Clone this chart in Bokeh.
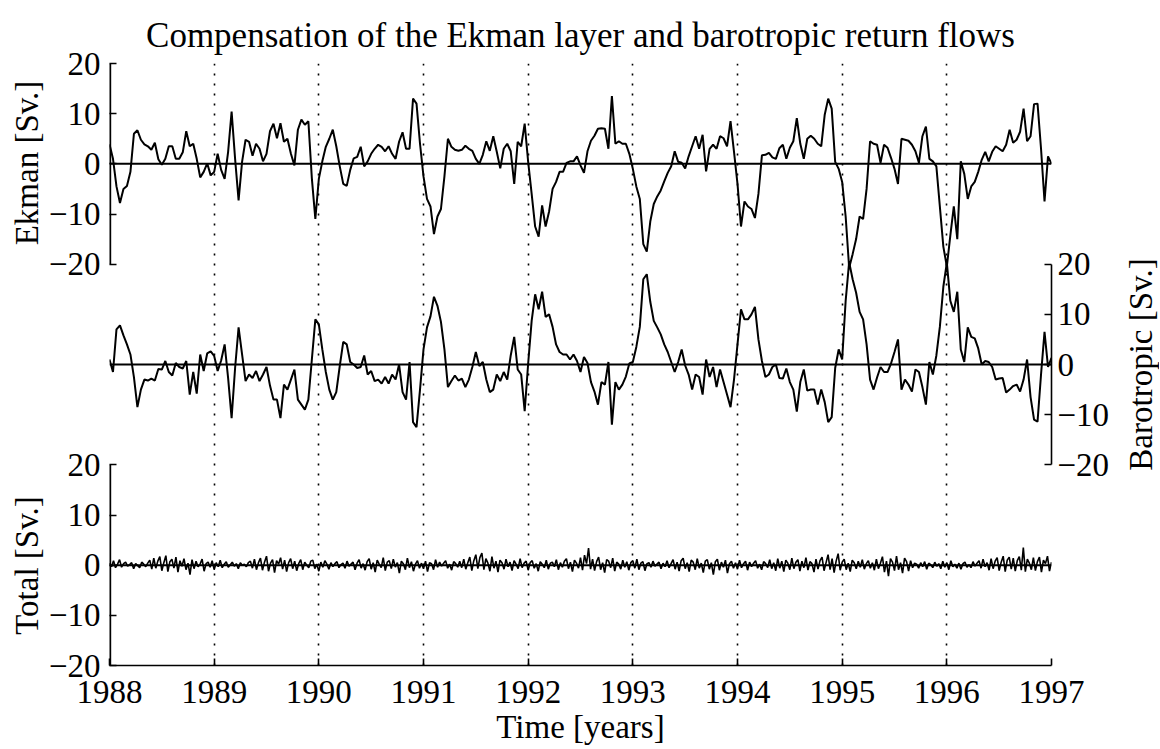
import numpy as np
from bokeh.plotting import figure
from bokeh.models import Range1d, LinearAxis, FixedTicker, Spacer
from bokeh.layouts import row, column
from bokeh.embed import file_html
from bokeh.resources import INLINE

title_text = "Compensation of the Ekman layer and barotropic return flows"
years = [1988, 1989, 1990, 1991, 1992, 1993, 1994, 1995, 1996, 1997]
sv_ticks = [-20, -10, 0, 10, 20]
sv_text = ["\u221220", "\u221210", "0", "10", "20"]
ekman_label = "Ekman [Sv.]"
baro_label = "Barotropic [Sv.]"
total_label = "Total [Sv.]"
time_label = "Time [years]"

# Ekman transport [Sv], 30 samples per year, 1988.0 .. 1997.0
ekman = [
    3.9, 1.0, -4.5, -7.8, -5.0, -4.4, -1.6, 6.0, 6.7, 4.8,
    3.9, 3.5, 2.8, 4.2, 0.9, -0.2, 1.0, 3.5, 3.5, 1.0,
    1.0, 2.3, 6.5, 3.5, 4.0, 1.0, -2.7, -1.6, 0.1, -2.3,
    -1.6, 2.0, -1.2, -3.0, 2.4, 10.4, 1.0, -7.3, 0.4, 4.8,
    4.4, 1.6, 4.0, 3.0, 0.5, 2.0, 6.5, 8.0, 5.1, 8.1,
    4.4, 5.0, 2.0, -0.3, 6.8, 8.8, 7.8, 8.5, -2.9, -11.0,
    -3.0, 0.5, 3.4, 5.0, 6.8, 3.5, -0.5, -4.0, -4.4, -1.2,
    1.1, 1.4, 3.4, -0.5, 0.5, 2.0, 3.0, 3.8, 3.4, 2.5,
    3.5, 2.0, 1.0, 4.4, 6.3, 3.0, 3.0, 13.0, 12.0, 4.0,
    -2.5, -7.0, -8.5, -14.0, -10.5, -9.0, -2.5, 5.0, 3.4, 2.8,
    2.6, 2.8, 3.6, 3.0, 2.6, 1.0, 0.0, 1.8, 4.5, 2.6,
    5.5, 2.4, -0.9, 3.0, 4.0, 2.5, -4.0, 4.4, 3.5, 8.0,
    0.4, -6.0, -12.5, -14.5, -8.3, -12.5, -9.5, -5.0, -3.6, -1.6,
    -1.6, 0.2, 0.5, 0.5, 1.5, -0.3, -1.8, 2.5, 4.6, 5.6,
    7.0, 7.1, 7.0, 3.0, 13.5, 4.0, 4.5, 4.0, 4.0, 2.0,
    -1.0, -4.5, -7.0, -16.0, -17.5, -11.5, -8.0, -6.5, -5.3, -3.5,
    -1.8, -0.5, 2.5, 0.4, 0.2, -0.9, 1.5, 3.5, 5.5, 3.0,
    5.8, -1.5, 3.0, 3.8, 3.0, 5.5, 5.1, 3.5, 8.5, 2.4,
    -4.0, -12.5, -7.5, -8.5, -9.0, -10.8, -6.0, 1.7, 1.8, 2.2,
    1.3, 1.0, 3.1, 3.8, 1.0, 3.2, 4.5, 9.1, 4.0, 1.0,
    5.0, 5.6, 5.0, 4.0, 3.5, 9.8, 13.0, 11.0, 0.4, -1.0,
    -3.6, -10.5, -20.7, -18.0, -15.0, -10.5, -11.0, -5.0, 4.5, 4.0,
    3.8, 0.2, 3.8, 3.2, 1.2, -1.0, -4.0, 5.0, 4.8, 4.6,
    3.8, 2.5, 0.2, 5.5, 7.4, 1.0, 0.5, -0.5, -8.5, -16.5,
    -20.5, -14.3, -8.5, -15.0, 0.5, -2.0, -7.0, -4.5, -3.6, -1.6,
    0.8, 2.4, 0.5, 2.4, 3.5, 3.0, 2.5, 3.8, 6.8, 4.2,
    4.8, 6.4, 11.0, 4.5, 5.5, 11.9, 12.0, 3.0, -7.5, 1.5,
    0.0,
]

# Barotropic return flow [Sv], same sampling
barotropic = [
    1.0, -1.5, 7.0, 7.8, 5.8, 4.0, 2.0, -2.5, -8.5, -5.0,
    -3.0, -3.2, -2.8, -3.2, -0.9, -1.0, 0.7, -1.5, -2.2, 0.3,
    -0.5, -0.8, 0.7, -6.0, -1.5, -5.8, 2.0, -1.3, 2.2, 2.6,
    1.7, -1.3, 0.8, 4.0, -2.7, -10.7, -0.7, 7.4, 2.0, -3.3,
    -2.0, -2.7, -1.3, -3.3, -2.0, -0.5, -4.2, -7.0, -7.0, -10.7,
    -4.0, -5.0, -3.0, -1.0, -7.0, -8.0, -9.0, -7.0, 1.0, 9.0,
    8.0, 3.0, -1.5, -5.0, -7.0, -5.5, -0.3, 4.5, 4.0, 0.5,
    0.0, -0.7, -0.5, 1.8, -2.0, -1.3, -3.3, -3.0, -3.8, -2.5,
    -3.8, -2.0, -3.0, 0.0, -5.5, -7.0, 0.5, -11.5, -12.5, -5.0,
    3.0, 7.4, 9.6, 13.5, 11.7, 8.5, 3.0, -4.5, -3.3, -2.2,
    -3.2, -2.8, -4.5, -3.0, -0.5, 2.5, -0.3, 0.5, -3.0, -5.5,
    -5.0, -2.0, -3.3, -1.5, -3.0, 1.8, 5.5, -1.0, -2.0, -9.3,
    0.2, 8.7, 14.0, 11.0, 14.5, 9.5, 10.0, 7.5, 4.0, 2.5,
    2.0, 2.0, 1.0, 2.0, 0.7, -1.5, 1.5, 0.3, -3.5, -5.4,
    -8.0, -3.5, -4.0, 0.5, -12.0, -3.5, -5.0, -4.0, -2.4, 0.2,
    0.5, 3.5, 7.5, 17.0, 18.0, 12.5, 8.7, 7.4, 6.0, 4.0,
    2.5, 0.5, -1.5, 0.5, 3.0, -0.2, -2.0, -5.0, -2.0, -2.5,
    -6.0, 1.0, -2.5, -0.5, -4.5, -1.0, -3.5, -6.0, -8.5, -3.0,
    4.0, 11.0, 9.0, 9.0, 10.0, 11.5, 5.0, 0.7, -2.5, -2.0,
    -0.5, 0.0, -2.7, -2.8, -0.8, -3.5, -5.0, -9.4, -3.5, -1.0,
    -5.2, -5.0, -5.0, -8.0, -5.0, -7.5, -11.5, -10.5, -0.7, 3.0,
    1.0, 12.7, 20.4, 17.0, 14.3, 10.5, 9.0, 4.0, -3.0, -5.0,
    -2.6, -0.5, -1.5, -1.5, 0.2, 2.5, 5.0, -5.0, -3.0, -4.0,
    -5.4, -1.0, -1.5, -4.5, -8.0, 0.5, -2.0, 1.8, 7.5, 15.5,
    20.3, 12.7, 10.5, 14.5, 3.0, 0.5, 7.4, 5.5, 5.2, 3.2,
    0.0, 0.7, 0.5, -0.5, -3.0, -2.8, -2.7, -5.6, -5.0, -4.3,
    -4.0, -5.4, -3.0, 1.0, -6.5, -11.0, -11.4, -2.0, 6.5, -0.5,
    1.3,
]

# Total transport [Sv], weekly
total = [
    0.4, -0.3, 0.9, -0.5, 0.2, 1.1, -0.4, 0.3, 0.6, -0.2, 0.1, 0.5, -0.7, 0.3, -0.1, -0.5, 0.6, 0.2, -0.3, 0.4,
    1.0, -0.8, 1.4, -0.6, 0.8, 1.7, -1.1, 0.5, 1.9, -1.3, 0.7, 1.2, -0.6, 1.6, -1.4, 0.9, -0.2, 1.3, -0.9, 0.4,
    -1.9, 1.1, -0.7, 0.8, -0.3, 0.2, 1.2, -1.2, 0.3, 0.6, -0.4, 0.9,
    -0.9, 0.5, -0.3, 1.0, -0.5, 0.2, 0.7, -0.4, 0.1, 0.6, -0.2, 0.3, -0.7, 0.5, 0.0, 0.2, -0.3, 0.5, 0.8, -0.6,
    1.2, -0.9, 0.5, 1.4, -1.0, 0.6, 1.8, -1.2, 0.4, 1.1, -1.5, 0.9, 0.2, 1.5, -0.8, 1.0, -1.3, 0.5, 1.3, -0.7,
    0.8, -1.1, 0.3, 1.1, -0.9, 0.6, 0.0, -0.5, 0.8, 1.0, -0.7, 0.2,
    -1.2, 0.6, -0.4, 0.9, 0.2, -0.8, 0.5, -0.3, 0.3, 0.7, -0.5, 0.1, 0.4, -0.6, 0.8, -0.2, 0.2, 0.6, -0.9, 0.4,
    1.1, -0.6, 0.3, -1.0, 0.7, 1.3, -0.8, 0.5, -1.4, 1.0, 0.2, -0.5, 1.5, -1.1, 0.6, 0.9, -0.7, 1.2, -0.4, 0.5,
    -1.6, 0.8, 0.3, -0.9, 1.4, -0.5, 0.7, -1.2, 0.2, 0.9, -0.6, 0.4,
    -0.7, 0.8, -1.3, 0.5, 0.3, -0.9, 1.1, -0.4, 0.6, -0.2, 0.4, 0.9, -0.6, 0.2, -1.0, 0.7, 0.3, -0.4, 0.8, -0.5,
    1.2, -0.8, 0.5, 1.6, -1.1, 0.9, 2.1, -0.7, 1.5, 2.4, -0.9, 1.3, 0.4, -1.2, 1.7, -0.6, 0.8, -1.4, 1.0, 0.5,
    -0.8, 1.2, -0.3, 0.6, -1.1, 0.9, 0.2, -0.7, 1.3, -0.5, 0.4, 0.8,
    -1.0, 0.5, 0.9, -0.6, 0.3, -1.2, 0.7, 0.2, -0.5, 1.0, -0.8, 0.4, 0.6, -0.3, 1.1, -0.9, 0.5, -0.4, 0.8, 1.3,
    -0.7, 0.6, -1.3, 1.0, 0.4, -0.6, 1.5, -1.0, 2.0, 0.3, 3.4, -0.8, 1.2, -1.1, 0.7, 1.6, -0.9, 0.5, -1.5, 1.1,
    0.8, -0.5, 1.4, -1.2, 0.6, 0.2, -0.8, 1.0, -0.4, 0.7, -1.0, 0.5,
    0.9, -0.6, 1.2, -0.9, 0.4, 0.7, -1.1, 0.3, 0.5, -0.4, 0.8, -0.2, 0.2, 0.6, -0.7, 0.4, -0.3, 0.9, -0.5, 0.3,
    1.1, -0.8, 0.6, -1.2, 0.9, 1.4, -0.7, 0.5, -1.3, 1.0, 0.6, -0.9, 1.3, -0.6, 0.4, -1.5, 0.8, 1.1, -0.8, 0.5,
    -1.9, 0.7, 1.2, -1.0, 0.6, -0.4, 1.0, -1.6, 0.3, 0.8, -0.6, 0.5,
    -0.8, 1.0, -0.5, 0.3, 0.8, -1.0, 0.6, -0.3, 0.4, 0.9, -0.6, 0.2, -0.9, 0.7, 0.3, -0.5, 1.1, -0.7, 0.5, -1.1,
    1.3, -0.6, 0.8, -1.3, 1.0, 0.4, -0.9, 1.4, -0.7, 0.6, 1.1, -1.2, 0.8, -0.5, 1.5, -1.0, 0.7, 0.3, -1.4, 1.2,
    -0.8, 0.9, 1.6, -1.1, 0.5, 2.1, -0.9, 1.3, -1.5, 0.8, 2.3, -1.0,
    0.6, 1.2, -0.9, 0.4, -1.3, 1.0, 0.5, -0.7, 0.8, -0.4, 1.1, -0.8, 0.3, 0.9, -0.6, 0.5, -1.0, 1.2, -0.7, 0.4,
    1.7, -1.4, 0.8, -2.2, 1.3, 0.6, -1.1, 1.8, -0.9, 0.5, -1.6, 1.4, 0.7, -1.2, 0.9, -0.5, 0.4, 0.2, -0.6, 0.5,
    -0.3, 0.7, -0.8, 0.4, 0.1, -0.5, 0.6, -0.2, 0.3, -0.7, 0.8, -0.4,
    0.5, -0.9, 0.9, -0.3, 0.2, -0.6, 0.4, -0.8, 0.3, 0.6, -0.4, 0.1, -0.5, 0.7, -0.2, 0.4, 0.9, -0.6, 1.2, -0.3,
    0.5, -1.0, 1.3, -0.7, 0.8, 1.5, -1.1, 0.6, 1.8, -1.3, 1.0, 1.6, -0.8, 1.4, -1.2, 0.9, 1.7, -1.0, 3.5, -1.3,
    1.2, 0.4, -0.9, 1.5, -1.1, 0.7, 1.6, -1.4, 1.0, 0.3, 1.8, -1.2,
    0.6,
]

FONT = "Liberation Serif"
FS = "33px"
SPAN = years[-1] - years[0]


def sample_times(series):
    n = len(series)
    return years[0] + SPAN * np.arange(n) / (n - 1)


t_ek = sample_times(ekman)
t_ba = sample_times(barotropic)
t_to = sample_times(total)

# vertical stacking of the three panels inside one frame (base units = Sv)
TOT_OFF, BA_OFF, EK_OFF = 0, 40, 80

# layout geometry (pixels)
LABEL_W = 45           # strip holding the left panel labels
TICK_W = 64            # left border of the main plot (tick labels)
FRAME_W, FRAME_H = 942, 602
TOP = 63
RIGHT_W = 65
RLABEL_W = 43
PANEL_H = 200
BOTTOM = 80

p = figure(frame_width=FRAME_W, frame_height=FRAME_H,
           x_range=Range1d(years[0], years[-1]),
           y_range=Range1d(TOT_OFF + sv_ticks[0], EK_OFF + sv_ticks[-1]),
           toolbar_location=None, tools="", output_backend="svg",
           min_border_left=TICK_W, min_border_right=RIGHT_W,
           min_border_top=TOP, min_border_bottom=4,
           outline_line_color=None, background_fill_color="white",
           border_fill_color="white")
p.extra_y_ranges = {
    "ek": Range1d(TOT_OFF + sv_ticks[0] - EK_OFF, EK_OFF + sv_ticks[-1] - EK_OFF),
    "ba": Range1d(TOT_OFF + sv_ticks[0] - BA_OFF, EK_OFF + sv_ticks[-1] - BA_OFF),
}

p.title.text = title_text
p.title.align = "center"
p.title.offset = 8
p.title.text_font = FONT
p.title.text_font_size = "35px"
p.title.text_font_style = "normal"
p.title.text_color = "black"
p.title.standoff = 17

p.ygrid.visible = False
p.xgrid.ticker = FixedTicker(ticks=years[1:-1])
p.xgrid.grid_line_color = "black"
p.xgrid.grid_line_dash = "2 8"
p.xgrid.grid_line_width = 1.6


def style_common(ax):
    ax.major_tick_in = 7
    ax.major_tick_out = 0
    ax.minor_tick_in = 0
    ax.minor_tick_out = 0
    ax.axis_line_color = "black"
    ax.axis_line_width = 1.6
    ax.major_tick_line_color = "black"
    ax.major_tick_line_width = 1.6
    ax.major_label_text_font = FONT
    ax.major_label_text_font_size = FS
    ax.major_label_text_color = "black"
    ax.axis_label_text_font = FONT
    ax.axis_label_text_font_size = FS
    ax.axis_label_text_font_style = "normal"
    ax.axis_label_text_color = "black"


# left axis: Ekman (top) and Total (bottom) tick sets; spines drawn per panel
left_ticks = [v + EK_OFF for v in sv_ticks] + [v + TOT_OFF for v in sv_ticks]
left_labels = {}
for v, s in zip(sv_ticks, sv_text):
    left_labels[v + EK_OFF] = s
    left_labels[v + TOT_OFF] = s
ya = p.yaxis[0]
ya.ticker = FixedTicker(ticks=left_ticks)
ya.major_label_overrides = left_labels
style_common(ya)
ya.axis_line_color = None
ya.major_label_standoff = 9

p.segment(x0=[years[0], years[0]], x1=[years[0], years[0]],
          y0=[TOT_OFF + sv_ticks[0], EK_OFF + sv_ticks[0]],
          y1=[TOT_OFF + sv_ticks[-1], EK_OFF + sv_ticks[-1]],
          line_color="black", line_width=3.4)

# right axis: Barotropic
ba_axis = LinearAxis(y_range_name="ba")
ba_axis.ticker = FixedTicker(ticks=sv_ticks)
ba_axis.major_label_overrides = dict(zip(sv_ticks, sv_text))
ba_axis.bounds = (sv_ticks[0], sv_ticks[-1])
style_common(ba_axis)
ba_axis.major_label_standoff = 6
p.add_layout(ba_axis, "right")

# bottom axis
xa = p.xaxis[0]
xa.ticker = FixedTicker(ticks=years)
xa.axis_label = time_label
style_common(xa)
xa.major_label_standoff = 15
xa.axis_label_standoff = 3

# zero lines
for off in (EK_OFF, BA_OFF, TOT_OFF):
    p.segment(x0=[years[0]], x1=[years[-1]], y0=[off], y1=[off],
              line_color="black", line_width=2)

# data
p.line(t_ek, ekman, y_range_name="ek", line_color="black", line_width=2)
p.line(t_ba, barotropic, y_range_name="ba", line_color="black", line_width=2)
p.line(t_to, total, line_color="black", line_width=1.6)


# narrow strips carrying the rotated panel labels (read bottom-to-top)
def label_strip(text, top, frame_h, bottom, left_border):
    q = figure(frame_width=1, frame_height=frame_h,
               min_border_left=left_border, min_border_right=0,
               min_border_top=top, min_border_bottom=bottom,
               x_range=Range1d(0, 1), y_range=Range1d(0, 1),
               x_axis_location=None, toolbar_location=None, tools="",
               output_backend="svg", outline_line_color=None,
               background_fill_color="white", border_fill_color="white")
    for g in q.grid:
        g.visible = False
    ax = q.yaxis[0]
    ax.ticker = FixedTicker(ticks=[])
    ax.axis_line_color = None
    ax.major_tick_line_color = None
    ax.minor_tick_line_color = None
    ax.major_tick_in = 0
    ax.major_tick_out = 0
    ax.minor_tick_in = 0
    ax.minor_tick_out = 0
    ax.major_label_standoff = 0
    ax.major_label_text_font_size = "0px"
    ax.axis_label = text
    ax.axis_label_standoff = 0
    ax.axis_label_text_font = FONT
    ax.axis_label_text_font_size = FS
    ax.axis_label_text_font_style = "normal"
    ax.axis_label_text_color = "black"
    return q


ek_h = PANEL_H - 1
q_ek = label_strip(ekman_label, TOP, ek_h, 0, LABEL_W - 1)
gap = TOP + FRAME_H - PANEL_H - (TOP + ek_h)
q_tot = label_strip(total_label, 0, PANEL_H, BOTTOM, LABEL_W - 1)
left_col = column(q_ek, Spacer(width=LABEL_W, height=gap), q_tot, spacing=0)

# barotropic label: same frame as the main plot, so it centres on the middle panel
q_ba = label_strip(baro_label, TOP, FRAME_H, BOTTOM, RLABEL_W - 1)

layout = row(left_col, p, q_ba, spacing=0)
open("out.html", "w").write(file_html(layout, INLINE))
